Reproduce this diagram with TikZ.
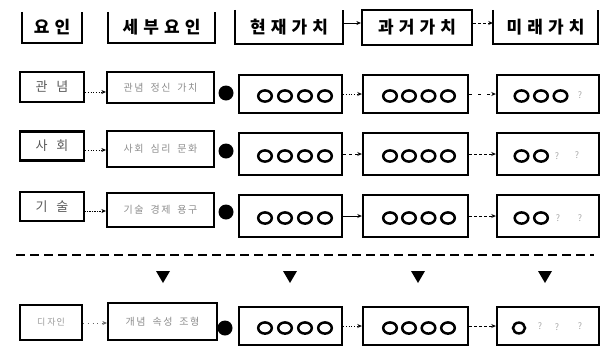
\documentclass[tikz,border=0pt]{standalone}
\usepackage{fontspec}
\newfontfamily\kr{Noto Sans CJK KR}
\usetikzlibrary{arrows.meta}
\begin{document}
\begin{tikzpicture}[x=1pt,y=-1pt,
  hdr/.style={inner sep=0pt,font=\kr\bfseries\fontsize{17}{17}\selectfont\addfontfeatures{LetterSpace=30}},
  hline/.style={line width=2.2pt,line join=miter},
  box/.style={draw,line width=2.2pt,inner sep=0pt},
  vbox/.style={draw,line width=2.4pt,inner sep=0pt},
  lbl/.style={font=\kr\fontsize{13}{13}\selectfont,text=black!65},
  det/.style={font=\kr\fontsize{10}{10}\selectfont\addfontfeatures{LetterSpace=15},text=black!45},
  blob/.style={circle,fill=black,inner sep=0pt,minimum size=15pt},
  conn/.style={line width=0.7pt,-{Stealth[length=4.5pt,width=4pt]}},
  oval/.style={line width=2.5pt},
  qm/.style={font=\kr\fontsize{9}{9}\selectfont,text=black!35,inner sep=0pt}
]
\useasboundingbox (0,0) rectangle (604,346);

% ---------------- header ----------------
\node[hdr,minimum width=60pt,minimum height=31pt] (h1) at (52,27.5) {요인};
\node[hdr,minimum width=107pt,minimum height=31pt] (h2) at (161.5,27.5) {세부요인};
\node[hdr,minimum width=108pt,minimum height=34pt] (h3) at (289,27) {현재가치};
\node[hdr,minimum width=110pt,minimum height=35pt,draw,line width=2.2pt] (h4) at (417,27.5) {과거가치};
\node[hdr,minimum width=105pt,minimum height=34pt] (h5) at (545.5,27) {미래가치};
\foreach \h in {h1,h2,h3,h5}
  \draw[hline] (\h.north west) -- (\h.south west) -- (\h.south east) -- (\h.north east);
\coordinate (yh) at (0,23);
\draw[conn] (h3.east |- yh) -- (h4.west |- yh);
\draw[conn,densely dashed] (h4.east |- yh) -- (h5.west |- yh);

% ---------------- factor boxes ----------------
\node[box,lbl,minimum width=64pt,minimum height=30pt] (f1) at (52,87) {관\hspace{9pt}념};
\node[box,lbl,minimum width=64pt,minimum height=29pt] (f2) at (52,146) {사\hspace{9pt}회};
\node[box,lbl,minimum width=64pt,minimum height=29pt] (f3) at (52,206.5) {기\hspace{9pt}술};
\node[box,lbl,minimum width=62pt,minimum height=35pt,text=black!40,font=\kr\fontsize{9}{9}\selectfont] (f4) at (51,322.5) {디\hspace{2pt}자\hspace{1pt}인};

% ---------------- detail boxes ----------------
\node[box,det,minimum width=107pt,minimum height=31pt] (d1) at (160.5,87.5) {관념\hspace{7pt}정신\hspace{7pt}가치};
\node[box,det,minimum width=107pt,minimum height=36pt] (d2) at (160.5,149) {사회\hspace{7pt}심리\hspace{7pt}문화};
\node[box,det,minimum width=107pt,minimum height=34pt] (d3) at (160.5,210) {기술\hspace{7pt}경제\hspace{7pt}용구};
\node[box,det,minimum width=109pt,minimum height=37pt] (d4) at (162.5,321.5) {개념\hspace{7pt}속성\hspace{7pt}조형};

\coordinate (y1) at (0,92);
\coordinate (y2) at (0,150);
\coordinate (y3) at (0,211);
\coordinate (y4) at (0,323);
\draw[conn,dotted] (f1.east |- y1) -- (d1.west |- y1);
\draw[conn,dotted] (f2.east |- y2) -- (d2.west |- y2);
\draw[conn,densely dotted] (f3.east |- y3) -- (d3.west |- y3);
\draw[conn,loosely dotted,black!60] (f4.east |- y4) -- (d4.west |- y4);

% ---------------- blobs ----------------
\node[blob] (b1) at (226,93) {};
\node[blob] (b2) at (226,151) {};
\node[blob] (b3) at (226,212) {};
\node[blob] (b4) at (225,328) {};

% ---------------- value boxes ----------------
\node[vbox,minimum width=103pt,minimum height=38pt] (p1) at (290.5,94) {};
\node[vbox,minimum width=103pt,minimum height=42pt] (p2) at (290.5,154) {};
\node[vbox,minimum width=103pt,minimum height=42pt] (p3) at (290.5,216) {};
\node[vbox,minimum width=103pt,minimum height=38pt] (p4) at (290.5,326) {};

\node[vbox,minimum width=105pt,minimum height=38pt] (q1) at (415.5,94) {};
\node[vbox,minimum width=105pt,minimum height=42pt] (q2) at (415.5,154) {};
\node[vbox,minimum width=105pt,minimum height=42pt] (q3) at (415.5,216) {};
\node[vbox,minimum width=105pt,minimum height=38pt] (q4) at (415.5,326) {};

\node[vbox,minimum width=102pt,minimum height=38pt] (r1) at (548,94) {};
\node[vbox,minimum width=102pt,minimum height=42pt] (r2) at (548,154) {};
\node[vbox,minimum width=102pt,minimum height=42pt] (r3) at (548,216) {};
\node[vbox,minimum width=102pt,minimum height=38pt] (r4) at (548,326) {};

% ovals
\foreach \yy in {96,156,218,328}{
  \foreach \xx in {265,285,305,325,390,409,428.5,448}
    \draw[oval] (\xx,\yy) ellipse [x radius=6.8pt,y radius=5.6pt];
}
\foreach \xx in {521.5,541,560.5} \draw[oval] (\xx,96) ellipse [x radius=6.8pt,y radius=5.6pt];
\node[qm] at (580,95) {?};
\foreach \xx in {521.5,541} \draw[oval] (\xx,156) ellipse [x radius=6.8pt,y radius=5.6pt];
\node[qm] at (557,156) {?};
\node[qm] at (577,155) {?};
\foreach \xx in {521.5,541} \draw[oval] (\xx,218) ellipse [x radius=6.8pt,y radius=5.6pt];
\node[qm] at (558,218) {?};
\node[qm] at (580,218) {?};
\draw[oval] (519,328) ellipse [x radius=6pt,y radius=5.4pt];
\node[qm] at (540,326) {?};
\node[qm] at (557,327) {?};
\node[qm] at (580,326) {?};

% value-row arrows
\draw[conn,dotted] (p1.east) -- (q1.west);
\draw[conn,loosely dashed] (q1.east) -- (r1.west);
\draw[conn,dashed] (p2.east) -- (q2.west);
\draw[conn,densely dashed] (q2.east) -- (r2.west);
\draw[conn] (p3.east) -- (q3.west);
\draw[conn,densely dashed] (q3.east) -- (r3.west);
\draw[conn,dotted] (p4.east) -- (q4.west);
\draw[conn,densely dashed] (q4.east) -- (r4.west);

% ---------------- divider and triangles ----------------
\coordinate (dl) at (16,255);
\coordinate (dr) at (594,255);
\draw[line width=2pt,dash pattern=on 9pt off 5pt] (dl) -- (dr);
\foreach \xx in {163,290,418,545}
  \fill (\xx-7,271) -- (\xx+7,271) -- (\xx,283) -- cycle;
\end{tikzpicture}
\end{document}
